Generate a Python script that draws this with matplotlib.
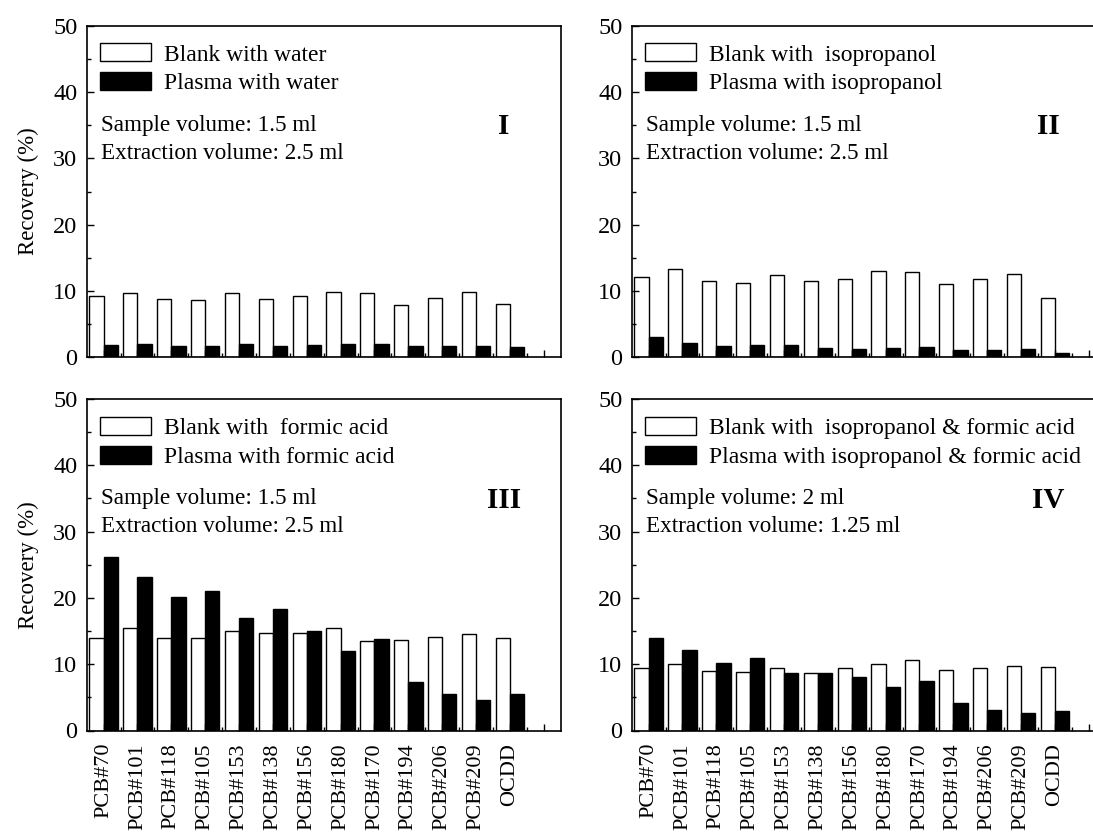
import numpy as np
import matplotlib
matplotlib.use('Agg')
import matplotlib.pyplot as plt

plt.rcParams['font.family'] = ['Liberation Serif', 'DejaVu Serif']

compounds = ['PCB#70', 'PCB#101', 'PCB#118', 'PCB#105', 'PCB#153', 'PCB#138', 'PCB#156',
             'PCB#180', 'PCB#170', 'PCB#194', 'PCB#206', 'PCB#209', 'OCDD']

# recovery (%) per panel: blank vs plasma
blank_water = [9.3, 9.7, 8.8, 8.7, 9.7, 8.8, 9.3, 9.9, 9.7, 7.9, 8.9, 9.8, 8.0]
plasma_water = [1.9, 2.0, 1.7, 1.7, 2.1, 1.8, 1.9, 2.0, 2.0, 1.8, 1.8, 1.8, 1.6]
blank_iso = [12.1, 13.3, 11.5, 11.2, 12.5, 11.6, 11.8, 13.0, 12.9, 11.1, 11.8, 12.6, 8.9]
plasma_iso = [3.1, 2.2, 1.8, 1.9, 1.9, 1.4, 1.3, 1.4, 1.6, 1.2, 1.2, 1.3, 0.7]
blank_fa = [14.0, 15.5, 13.9, 13.9, 15.0, 14.7, 14.7, 15.5, 13.5, 13.7, 14.1, 14.5, 14.0]
plasma_fa = [26.2, 23.2, 20.2, 21.1, 17.0, 18.3, 15.0, 12.0, 13.8, 7.3, 5.5, 4.6, 5.5]
blank_isofa = [9.4, 10.0, 9.0, 8.8, 9.4, 8.7, 9.5, 10.1, 10.6, 9.2, 9.5, 9.8, 9.6]
plasma_isofa = [14.0, 12.2, 10.2, 11.0, 8.7, 8.6, 8.1, 6.6, 7.5, 4.1, 3.1, 2.6, 2.9]

panels = [
    ('I', 'Blank with water', 'Plasma with water', blank_water, plasma_water,
     'Sample volume: 1.5 ml', 'Extraction volume: 2.5 ml'),
    ('II', 'Blank with  isopropanol', 'Plasma with isopropanol', blank_iso, plasma_iso,
     'Sample volume: 1.5 ml', 'Extraction volume: 2.5 ml'),
    ('III', 'Blank with  formic acid', 'Plasma with formic acid', blank_fa, plasma_fa,
     'Sample volume: 1.5 ml', 'Extraction volume: 2.5 ml'),
    ('IV', 'Blank with  isopropanol & formic acid', 'Plasma with isopropanol & formic acid',
     blank_isofa, plasma_isofa, 'Sample volume: 2 ml', 'Extraction volume: 1.25 ml'),
]

fig = plt.figure(figsize=(10.93, 8.33), dpi=100)
W, H = 1093, 833
# axes boxes in pixels: left, top, right, bottom
boxes = [(87, 25.7, 561, 357.5), (632, 25.7, 1106, 357.5),
         (87, 399, 561, 730.5), (632, 399, 1106, 730.5)]

x = np.arange(len(compounds))
bw = 0.42
fs = 16.7

for k, (num, lab_b, lab_p, blank, plasma, s1, s2) in enumerate(panels):
    l, t, r, b = boxes[k]
    ax = fig.add_axes([l / W, 1 - b / H, (r - l) / W, (b - t) / H])
    ax.bar(x - bw / 2, blank, bw, color='white', edgecolor='black', linewidth=1.0, label=lab_b)
    ax.bar(x + bw / 2, plasma, bw, color='black', edgecolor='black', linewidth=1.0, label=lab_p)

    ax.set_xlim(-0.49, 13.51)
    ax.set_ylim(0, 50)
    ax.set_yticks(np.arange(0, 51, 10))
    ax.set_yticks(np.arange(5, 50, 10), minor=True)
    ax.set_xticks(np.arange(0, 14))
    ax.set_xticks(np.arange(0.5, 13, 1), minor=True)
    ax.tick_params(which='both', direction='in', width=1.0)
    ax.tick_params(which='major', length=5)
    ax.tick_params(which='minor', length=3)
    ax.tick_params(axis='y', labelsize=17.5, pad=7)
    if k >= 2:
        ax.set_xticklabels(compounds + [''], rotation=90, fontsize=16)
        ax.tick_params(axis='x', pad=9)
    else:
        ax.set_xticklabels([])
    for sp in ax.spines.values():
        sp.set_linewidth(1.2)
    if k % 2 == 0:
        ax.set_ylabel('Recovery (%)', fontsize=16.5, labelpad=10)

    ax.legend(loc='upper left', bbox_to_anchor=(-0.01, 1.0), frameon=False, fontsize=17,
              handlelength=2.15, handleheight=0.8, handletextpad=0.55, labelspacing=0.28,
              borderaxespad=0.45, borderpad=0.3)
    ax.text(0.029, 0.70, s1, transform=ax.transAxes, fontsize=fs, va='center')
    ax.text(0.029, 0.615, s2, transform=ax.transAxes, fontsize=fs, va='center')
    ax.text(0.879, 0.695, num, transform=ax.transAxes, fontsize=21, fontweight='bold',
            ha='center', va='center')

fig.savefig('out.png', dpi=100)
